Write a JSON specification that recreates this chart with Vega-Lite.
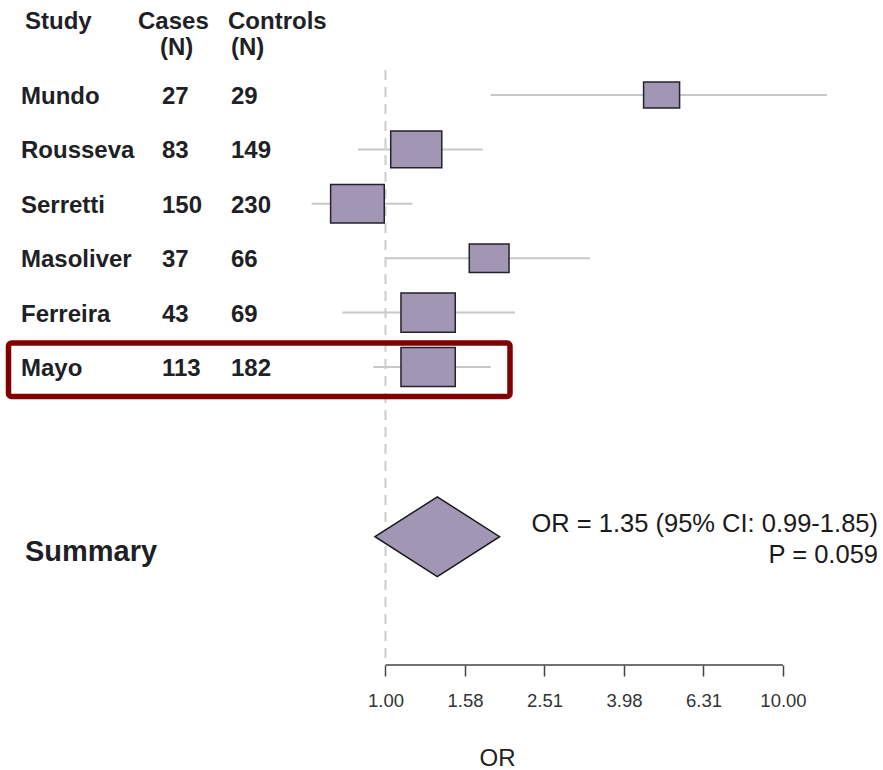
{
  "$schema": "https://vega.github.io/schema/vega-lite/v6.json",
  "width": 883,
  "height": 665,
  "autosize": {"type": "none"},
  "padding": {"left": 0, "top": 0, "right": 0, "bottom": 105},
  "background": "white",
  "config": {
    "view": {"stroke": null},
    "font": "Liberation Sans",
    "text": {"font": "Liberation Sans"},
    "axisX": {
      "domain": false, "grid": false,
      "tickSize": 11, "tickColor": "#444444", "tickWidth": 1.5,
      "labelFontSize": 18.5, "labelColor": "#333333", "labelPadding": 15, "labelFont": "Liberation Sans",
      "titleFontSize": 24, "titleFontWeight": "normal", "titleColor": "#222222", "titleFont": "Liberation Sans",
      "titleX": 497, "titleY": 93, "titleBaseline": "middle", "titleAlign": "center"
    }
  },
  "datasets": {
    "studies": [
      {"study": "Mundo", "cases": 27, "controls": 29, "or": 4.95, "lo": 1.84, "hi": 12.9, "weight": 9.1, "row": 1},
      {"study": "Rousseva", "cases": 83, "controls": 149, "or": 1.195, "lo": 0.853, "hi": 1.756, "weight": 18.3, "row": 2},
      {"study": "Serretti", "cases": 150, "controls": 230, "or": 0.85, "lo": 0.652, "hi": 1.168, "weight": 20.2, "row": 3},
      {"study": "Masoliver", "cases": 37, "controls": 66, "or": 1.823, "lo": 1.0, "hi": 3.27, "weight": 11.1, "row": 4},
      {"study": "Ferreira", "cases": 43, "controls": 69, "or": 1.28, "lo": 0.779, "hi": 2.118, "weight": 20.7, "row": 5},
      {"study": "Mayo", "cases": 113, "controls": 182, "or": 1.28, "lo": 0.932, "hi": 1.84, "weight": 20.7, "row": 6}
    ],
    "summary": [{"label": "Summary", "or": 1.35, "lo": 0.99, "hi": 1.85, "p": 0.059}]
  },
  "layer": [
    {
      "data": {"name": "studies"},
      "mark": {"type": "rule", "color": "#c8c8c8", "strokeWidth": 2},
      "encoding": {
        "x": {
          "field": "lo", "type": "quantitative",
          "scale": {"type": "log", "domain": [0.1072, 17.849], "nice": false, "zero": false},
          "axis": {"values": [1, 1.5849, 2.5119, 3.9811, 6.3096, 10], "format": ".2f", "title": "OR"}
        },
        "x2": {"field": "hi"},
        "y": {
          "field": "row", "type": "quantitative",
          "scale": {"domain": [-0.7463, 11.478], "reverse": true, "nice": false, "zero": false},
          "axis": null
        }
      }
    },
    {
      "data": {"values": [{}]},
      "mark": {"type": "rule", "color": "#cccccc", "strokeWidth": 2, "strokeDash": [10, 7]},
      "encoding": {
        "x": {"datum": 1, "type": "quantitative"},
        "y": {"datum": 0.5404, "type": "quantitative", "axis": null},
        "y2": {"datum": 11.478}
      }
    },
    {
      "data": {"values": [{}]},
      "mark": {"type": "rule", "color": "#444444", "strokeWidth": 1.5},
      "encoding": {
        "x": {"datum": 1, "type": "quantitative"},
        "x2": {"datum": 10},
        "y": {"datum": 11.478, "type": "quantitative", "axis": null}
      }
    },
    {
      "data": {"name": "studies"},
      "mark": {"type": "point", "shape": "M-1,-0.72L1,-0.72L1,0.72L-1,0.72Z", "filled": true, "fill": "#a197b5", "stroke": "#23222e", "strokeWidth": 1.5, "opacity": 1},
      "encoding": {
        "x": {"field": "or", "type": "quantitative"},
        "y": {"field": "row", "type": "quantitative", "axis": null},
        "size": {"field": "weight", "type": "quantitative", "scale": {"domain": [0, 100], "range": [0, 14242]}, "legend": null}
      }
    },
    {
      "data": {"name": "summary"},
      "mark": {"type": "point", "shape": "M-1,0L0,-0.64L1,0L0,0.64Z", "size": 15525, "filled": true, "fill": "#a197b5", "stroke": "#1a1a1a", "strokeWidth": 1.5, "opacity": 1},
      "encoding": {
        "x": {"field": "or", "type": "quantitative"},
        "y": {"datum": 9.12, "type": "quantitative", "axis": null}
      }
    },
    {
      "data": {"name": "studies"},
      "mark": {"type": "text", "align": "left", "baseline": "middle", "fontSize": 24, "fontWeight": "bold", "color": "#1f1f26", "dy": 2},
      "encoding": {
        "x": {"datum": 0.12106, "type": "quantitative"},
        "y": {"field": "row", "type": "quantitative", "axis": null},
        "text": {"field": "study"}
      }
    },
    {
      "data": {"name": "studies"},
      "mark": {"type": "text", "align": "left", "baseline": "middle", "fontSize": 24, "fontWeight": "bold", "color": "#1f1f26", "dy": 2},
      "encoding": {
        "x": {"datum": 0.27397, "type": "quantitative"},
        "y": {"field": "row", "type": "quantitative", "axis": null},
        "text": {"field": "cases"}
      }
    },
    {
      "data": {"name": "studies"},
      "mark": {"type": "text", "align": "left", "baseline": "middle", "fontSize": 24, "fontWeight": "bold", "color": "#1f1f26", "dy": 2},
      "encoding": {
        "x": {"datum": 0.40864, "type": "quantitative"},
        "y": {"field": "row", "type": "quantitative", "axis": null},
        "text": {"field": "controls"}
      }
    },
    {
      "data": {"values": [{}]},
      "mark": {"type": "text", "text": "Study", "align": "left", "baseline": "middle", "fontSize": 24, "fontWeight": "bold", "color": "#1f1f26"},
      "encoding": {
        "x": {"datum": 0.1239, "type": "quantitative"},
        "y": {"datum": -0.3346, "type": "quantitative", "axis": null}
      }
    },
    {
      "data": {"values": [{}]},
      "mark": {"type": "text", "text": "Cases", "align": "left", "baseline": "middle", "fontSize": 24, "fontWeight": "bold", "color": "#1f1f26"},
      "encoding": {
        "x": {"datum": 0.23846, "type": "quantitative"},
        "y": {"datum": -0.3346, "type": "quantitative", "axis": null}
      }
    },
    {
      "data": {"values": [{}]},
      "mark": {"type": "text", "text": "Controls", "align": "left", "baseline": "middle", "fontSize": 24, "fontWeight": "bold", "color": "#1f1f26"},
      "encoding": {
        "x": {"datum": 0.4016, "type": "quantitative"},
        "y": {"datum": -0.3346, "type": "quantitative", "axis": null}
      }
    },
    {
      "data": {"values": [{}]},
      "mark": {"type": "text", "text": "(N)", "align": "left", "baseline": "middle", "fontSize": 24, "fontWeight": "bold", "color": "#1f1f26"},
      "encoding": {
        "x": {"datum": 0.27081, "type": "quantitative"},
        "y": {"datum": 0.1434, "type": "quantitative", "axis": null}
      }
    },
    {
      "data": {"values": [{}]},
      "mark": {"type": "text", "text": "(N)", "align": "left", "baseline": "middle", "fontSize": 24, "fontWeight": "bold", "color": "#1f1f26"},
      "encoding": {
        "x": {"datum": 0.40864, "type": "quantitative"},
        "y": {"datum": 0.1434, "type": "quantitative", "axis": null}
      }
    },
    {
      "data": {"name": "summary"},
      "mark": {"type": "text", "align": "left", "baseline": "middle", "fontSize": 29, "fontWeight": "bold", "color": "#1f1f26"},
      "encoding": {
        "x": {"datum": 0.1239, "type": "quantitative"},
        "y": {"datum": 9.395, "type": "quantitative", "axis": null},
        "text": {"field": "label"}
      }
    },
    {
      "data": {"values": [{}]},
      "mark": {"type": "text", "text": "OR = 1.35 (95% CI: 0.99-1.85)", "align": "right", "baseline": "middle", "fontSize": 25.5, "color": "#1a1a1a"},
      "encoding": {
        "x": {"datum": 17.339, "type": "quantitative"},
        "y": {"datum": 8.884, "type": "quantitative", "axis": null}
      }
    },
    {
      "data": {"values": [{}]},
      "mark": {"type": "text", "text": "P = 0.059", "align": "right", "baseline": "middle", "fontSize": 25.5, "color": "#1a1a1a"},
      "encoding": {
        "x": {"datum": 17.339, "type": "quantitative"},
        "y": {"datum": 9.463, "type": "quantitative", "axis": null}
      }
    },
    {
      "data": {"values": [{}]},
      "mark": {"type": "rect", "fill": null, "fillOpacity": 0, "stroke": "#800000", "strokeWidth": 5.5, "cornerRadius": 3},
      "encoding": {
        "x": {"datum": 0.11261, "type": "quantitative"},
        "x2": {"datum": 2.057},
        "y": {"datum": 5.559, "type": "quantitative", "axis": null},
        "y2": {"datum": 6.542}
      }
    }
  ]
}
